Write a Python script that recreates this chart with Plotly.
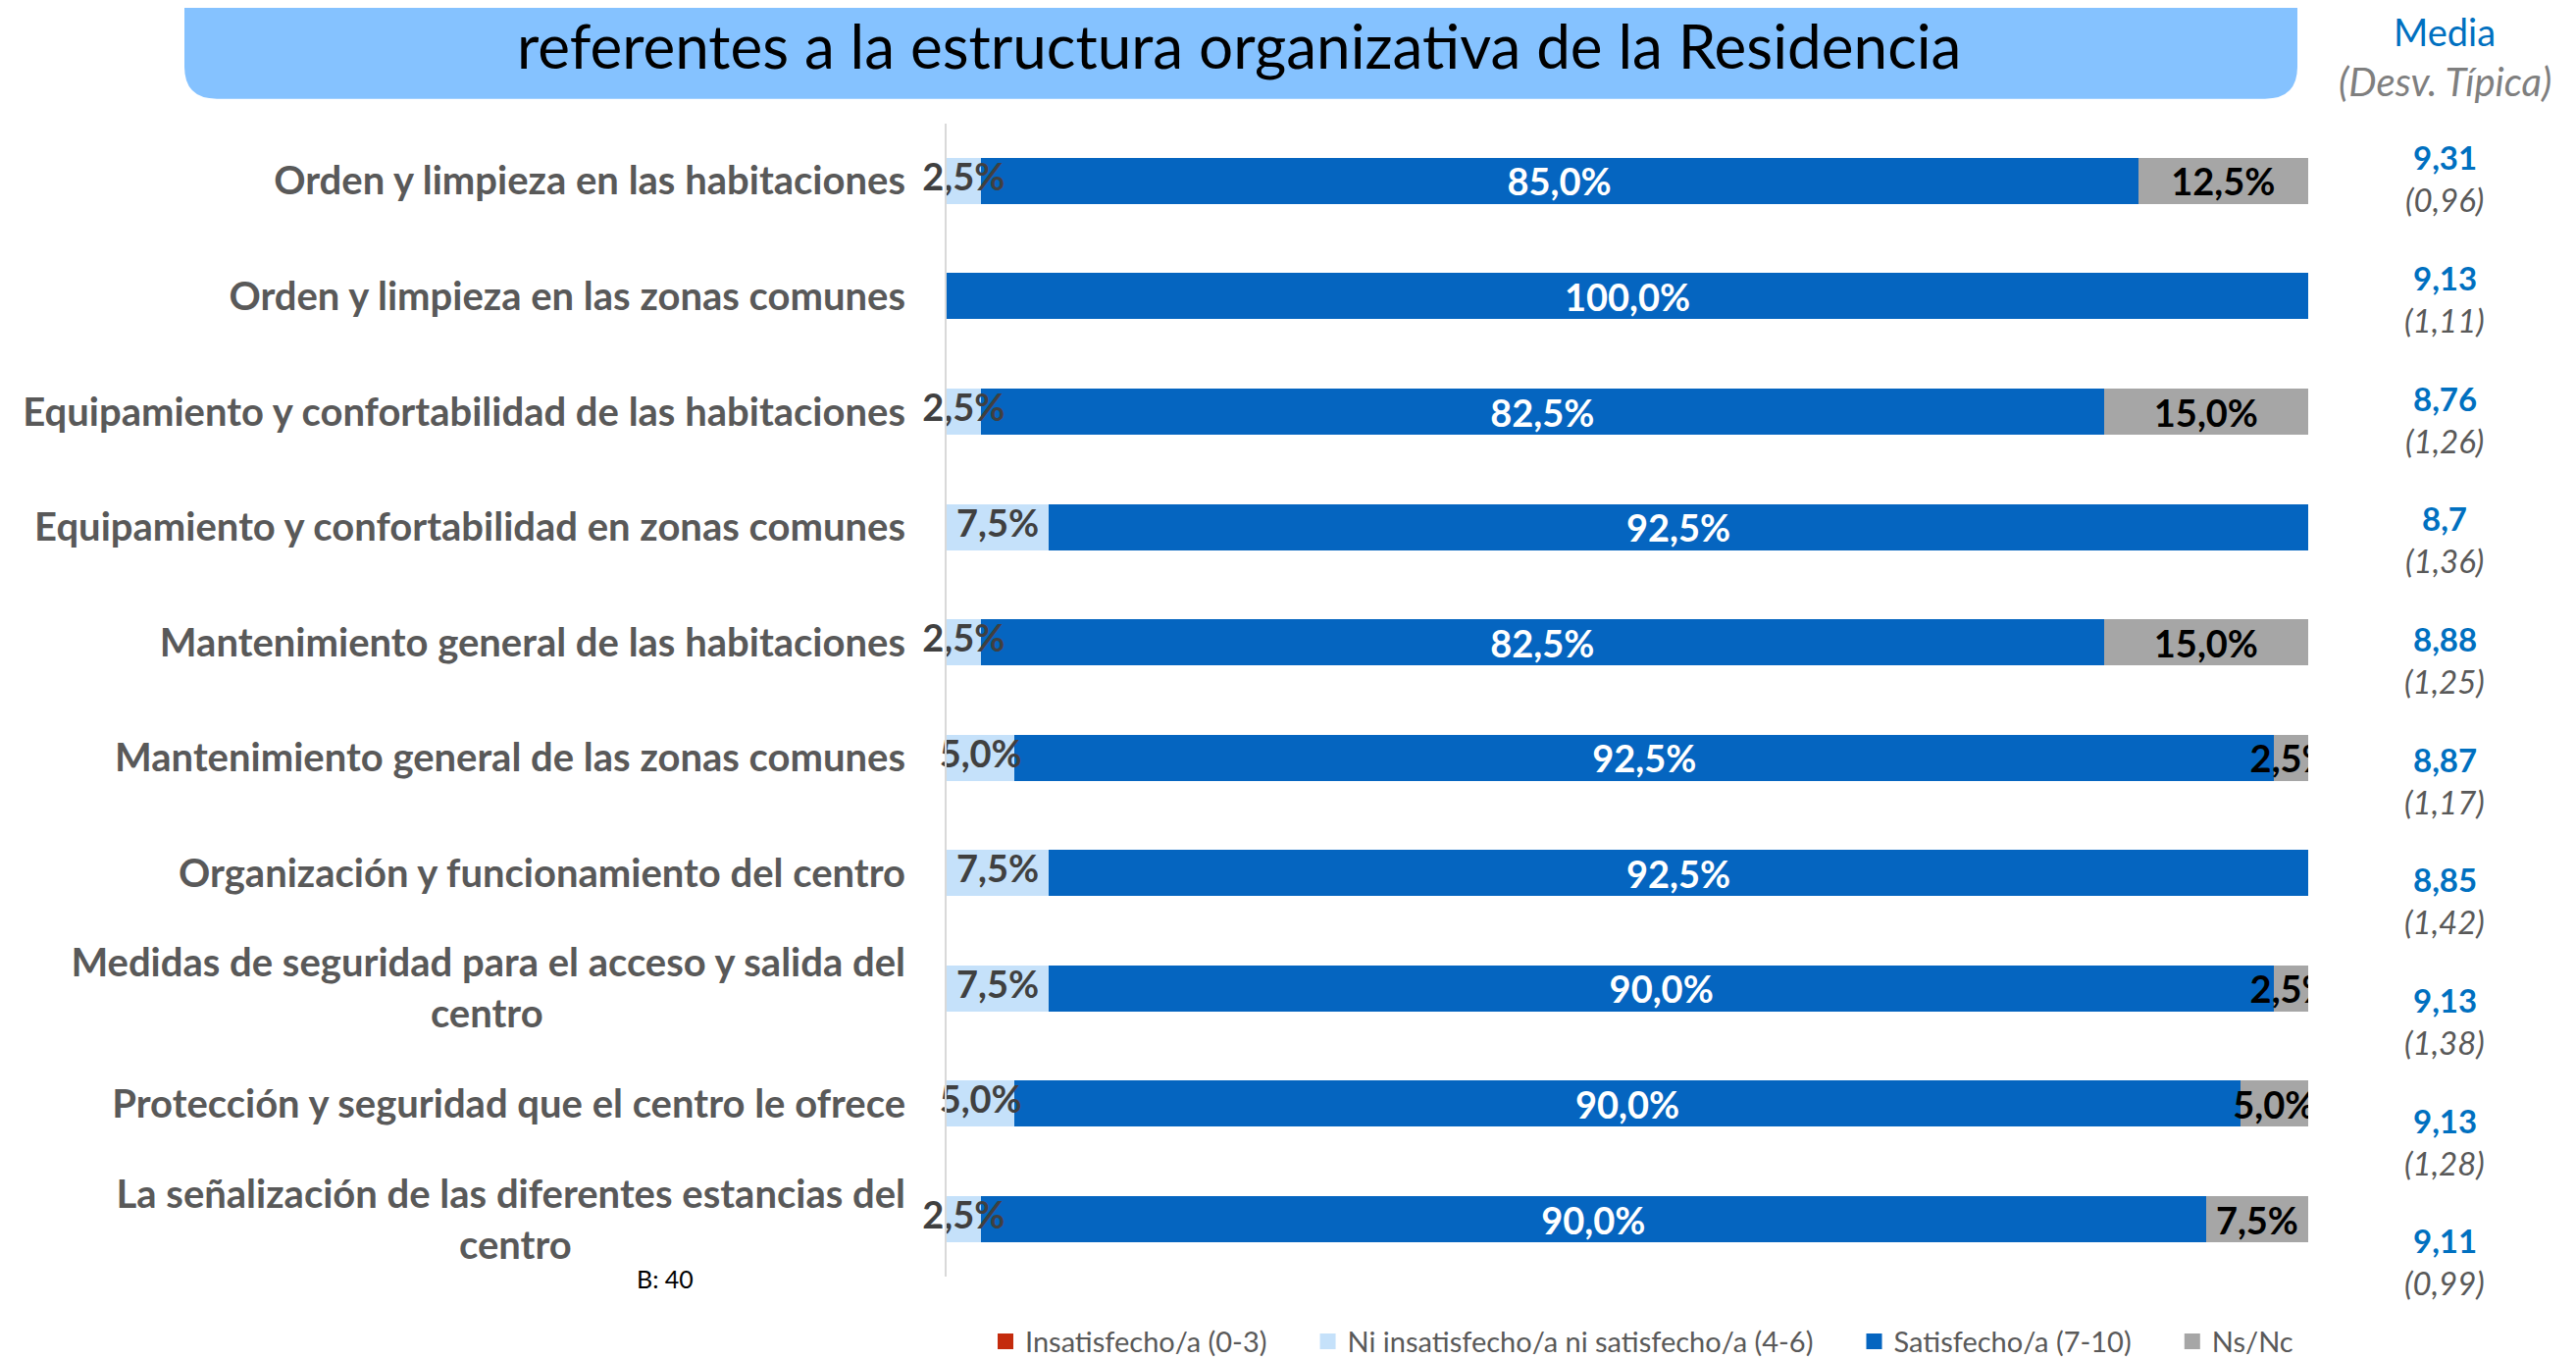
import plotly.graph_objects as go

categorias = [
    "Orden y limpieza en las habitaciones",
    "Orden y limpieza en las zonas comunes",
    "Equipamiento y confortabilidad de las habitaciones",
    "Equipamiento y confortabilidad en zonas comunes",
    "Mantenimiento general de las habitaciones",
    "Mantenimiento general de las zonas comunes",
    "Organización y funcionamiento del centro",
    "Medidas de seguridad para el acceso y salida del centro",
    "Protección y seguridad que el centro le ofrece",
    "La señalización de las diferentes estancias del centro",
]

insatisfecho = [0, 0, 0, 0, 0, 0, 0, 0, 0, 0]
ni_ni = [2.5, 0, 2.5, 7.5, 2.5, 5.0, 7.5, 7.5, 5.0, 2.5]
satisfecho = [85.0, 100.0, 82.5, 92.5, 82.5, 92.5, 92.5, 90.0, 90.0, 90.0]
ns_nc = [12.5, 0, 15.0, 0, 15.0, 2.5, 0, 2.5, 5.0, 7.5]

media = ["9,31", "9,13", "8,76", "8,7", "8,88", "8,87", "8,85", "9,13", "9,13", "9,11"]
desv = ["0,96", "1,11", "1,26", "1,36", "1,25", "1,17", "1,42", "1,38", "1,28", "0,99"]

FONT = "Lato"
W, H = 2626, 1385
L, R, T, B = 965, 2353, 126, 1306  # area del gráfico en píxeles
OFF = 8  # margen por defecto del body en la página
NB = "\u00a0"


def px_x(px):
    return (px - OFF) / W


def px_y(py):
    return 1 - (py - OFF) / H


def etiquetas(vals):
    return [("%.1f%%" % v).replace(".", ",") if v > 0 else "" for v in vals]


# etiquetas del eje: las dos largas en dos líneas, con la segunda centrada
rotulos = list(categorias)
rotulos[7] = "Medidas de seguridad para el acceso y salida del<br>centro" + NB * 38
rotulos[9] = "La señalización de las diferentes estancias del<br>centro" + NB * 35

# nombre, valores, color, color del texto
series = [
    ("Insatisfecho/a (0-3)", insatisfecho, "#C42B0D", "#262626"),
    ("Ni insatisfecho/a ni satisfecho/a (4-6)", ni_ni, "#C5E1FA", "#404040"),
    ("Satisfecho/a (7-10)", satisfecho, "#0565C0", "white"),
    ("Ns/Nc", ns_nc, "#A6A6A6", "black"),
]

fig = go.Figure()
for nombre, vals, color, tcolor in series:
    # las etiquetas del tramo claro se dibujan aparte para que queden encima
    txt = etiquetas(vals) if vals is not ni_ni else None
    fig.add_trace(go.Bar(
        name=nombre, y=categorias, x=vals, orientation="h",
        marker=dict(color=color, line=dict(width=0)),
        text=txt, textposition="inside", insidetextanchor="middle",
        constraintext="none", cliponaxis=True, textangle=0,
        textfont=dict(family=FONT, size=38, color=tcolor, weight="bold"),
        width=0.4, showlegend=False,
    ))

fig.add_trace(go.Scatter(
    x=[v / 2 for v in ni_ni], y=categorias, mode="text", text=etiquetas(ni_ni),
    textposition="middle center", cliponaxis=False, showlegend=False,
    textfont=dict(family=FONT, size=38, color="#404040", weight="bold"),
))

# leyenda con cuadrados
for k, (nombre, vals, color, tcolor) in enumerate(series):
    pad = NB * 5 if k < len(series) - 1 else ""
    fig.add_trace(go.Scatter(
        x=[None], y=[None], mode="markers", name=nombre + pad,
        marker=dict(symbol="square", size=16, color=color),
    ))

fig.update_layout(
    width=W, height=H, autosize=False,
    margin=dict(l=0, r=0, t=0, b=0, pad=0),
    barmode="stack",
    plot_bgcolor="white", paper_bgcolor="white",
    font=dict(family=FONT),
    showlegend=True,
    legend=dict(orientation="h", x=px_x(1674), xanchor="center",
                y=px_y(1372), yanchor="middle",
                font=dict(family=FONT, size=29, color="#595959"),
                traceorder="normal", itemwidth=30),
    xaxis=dict(domain=[px_x(L), px_x(R)], range=[0, 100], visible=False, fixedrange=True),
    yaxis=dict(domain=[px_y(B), px_y(T)], autorange="reversed", showline=True,
               linecolor="#D9D9D9", linewidth=2, showgrid=False, ticks="",
               tickmode="array", tickvals=categorias, ticktext=rotulos,
               ticklabelstandoff=32, automargin=False,
               tickfont=dict(family=FONT, size=40, color="#595959", weight="bold")),
)

# caja del título con esquinas inferiores redondeadas
x0, x1 = px_x(188), px_x(2342)
y0, y1 = px_y(101), px_y(-20)
rx, ry = 33 / W, 33 / H
path = (f"M {x0},{y1} L {x1},{y1} L {x1},{y0 + ry} Q {x1},{y0} {x1 - rx},{y0} "
        f"L {x0 + rx},{y0} Q {x0},{y0} {x0},{y0 + ry} Z")
fig.add_shape(type="path", path=path, xref="paper", yref="paper",
              fillcolor="#85C2FF", line=dict(width=0), layer="below")


def texto(t, xp, yp, size, color, **kw):
    fig.add_annotation(text=t, x=px_x(xp), y=px_y(yp), xref="paper", yref="paper",
                       xanchor="center", yanchor="middle", showarrow=False,
                       font=dict(family=FONT, size=size, color=color, **kw))


texto("referentes a la estructura organizativa de la Residencia", 1263, 46, 62, "black")
texto("Media", 2492, 32, 38, "#0070C0")
texto("(Desv. Típica)", 2492, 83, 40, "#7F7F7F", style="italic")

for i, (m, d) in enumerate(zip(media, desv)):
    texto(m, 2492, 161 + 123.1 * i, 33, "#0070C0", weight="bold")
    texto("(" + d + ")", 2492, 204 + 123.1 * i, 33, "#595959", style="italic")

texto("B: 40", 678, 1308, 25, "black")

fig.write_html("out.html")
